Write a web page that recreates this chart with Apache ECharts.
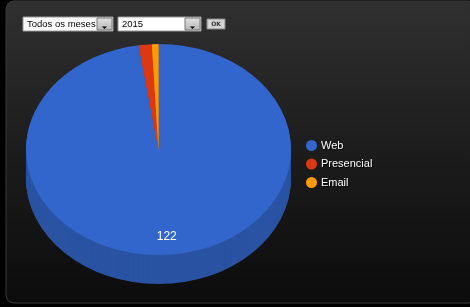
<!DOCTYPE html>
<html>
<head>
<meta charset="utf-8">
<title>Atendimentos</title>
<script src="https://cdn.jsdelivr.net/npm/echarts@6/dist/echarts.min.js"></script>
<style>
  html, body { margin: 0; padding: 0; background: #000; }
  #main { width: 470px; height: 307px; }
</style>
</head>
<body>
<div id="main"></div>
<script>
var categories = ['Web', 'Presencial', 'Email'];
var values = [122, 2, 1];
var colors = ['#3366cc', '#dc3912', '#ff9900'];
var sideColors = ['#2a53a3', '#b02e0e', '#cc7a00'];
var monthLabel = 'Todos os meses';
var yearLabel = '2015';

// ellipse of the 3d pie
var cx = 158.5, cy = 149.5, rx = 132.5, ry = 105.5, depth = 29;
var total = values.reduce(function (a, b) { return a + b; }, 0);

function sliceAngles(i) {
  var before = 0;
  for (var j = 0; j < i; j++) before += values[j];
  var a0 = -Math.PI / 2 + before / total * Math.PI * 2;
  return [a0, a0 + values[i] / total * Math.PI * 2];
}

function sector(i, dy, color) {
  var a = sliceAngles(i);
  return {
    type: 'sector',
    x: cx, y: cy + dy,
    scaleY: ry / rx,
    shape: { cx: 0, cy: 0, r0: 0, r: rx, startAngle: a[0], endAngle: a[1], clockwise: true },
    style: { fill: color }
  };
}

var sideSeries = {
  type: 'custom',
  coordinateSystem: 'none',
  silent: true,
  z: 1,
  data: values,
  renderItem: function (params, api) {
    var kids = [];
    for (var k = depth; k >= 1; k--) kids.push(sector(params.dataIndex, k, sideColors[params.dataIndex]));
    return { type: 'group', children: kids };
  }
};

var topSeries = categories.map(function (name, i) {
  return {
    name: name,
    type: 'custom',
    coordinateSystem: 'none',
    z: 2,
    itemStyle: { color: colors[i] },
    data: [values[i]],
    renderItem: function (params, api) {
      var kids = [sector(i, 0, colors[i])];
      if (values[i] / total > 0.05) {
        var a = sliceAngles(i), m = (a[0] + a[1]) / 2;
        kids.push({
          type: 'text',
          x: cx + Math.cos(m) * rx * 0.83,
          y: cy + Math.sin(m) * ry * 0.83,
          style: {
            text: String(api.value(0)),
            fill: '#fff',
            fontSize: 12, fontFamily: '"Liberation Sans", Arial, sans-serif',
            align: 'center', verticalAlign: 'middle',
            textAlign: 'center', textVerticalAlign: 'middle'
          }
        });
      }
      return { type: 'group', children: kids };
    }
  };
});

function selectBox(x, w, label) {
  return {
    type: 'group',
    children: [
      { type: 'rect', z: 1, shape: { x: x, y: 17, width: w, height: 14 }, style: { fill: '#fff', stroke: '#9a9a9a', lineWidth: 1 } },
      { type: 'rect', z: 2, shape: { x: x + w - 16, y: 18, width: 15, height: 12 },
        style: { fill: new echarts.graphic.LinearGradient(0, 0, 0, 1, [{ offset: 0, color: '#e4e4e4' }, { offset: 1, color: '#b4b4b4' }]), stroke: '#777', lineWidth: 1 } },
      { type: 'polygon', z: 3, shape: { points: [[x + w - 11, 26.5], [x + w - 6, 26.5], [x + w - 8.5, 29]] }, style: { fill: '#000' } },
      { type: 'text', z: 4, x: x + 4, y: 24.5, style: { text: label, fill: '#000', font: '9.5px "Liberation Sans", Arial, sans-serif', verticalAlign: 'middle', textVerticalAlign: 'middle' } }
    ]
  };
}

var chart = echarts.init(document.getElementById('main'));
chart.setOption({
  backgroundColor: 'transparent',
  animation: false,
  legend: {
    orient: 'vertical',
    left: 301, top: 135,
    icon: 'circle',
    itemWidth: 11, itemHeight: 11, itemGap: 7.5,
    selectedMode: false,
    data: categories,
    textStyle: { color: '#fff', fontSize: 11, fontFamily: '"Liberation Sans", Arial, sans-serif', padding: [0, 0, 0, -1],
      textShadowColor: 'rgba(0,0,0,0.8)', textShadowBlur: 1, textShadowOffsetX: 1, textShadowOffsetY: 1 }
  },
  graphic: [
    { type: 'rect', z: -10, shape: { x: 6, y: 1, width: 470, height: 302, r: 8 },
      style: { fill: new echarts.graphic.LinearGradient(0, 0, 0, 1, [{ offset: 0, color: '#303030' }, { offset: 0.45, color: '#1e1e1e' }, { offset: 1, color: '#0c0c0c' }]), stroke: '#3a3a3a', lineWidth: 1 } },
    selectBox(23, 90, monthLabel),
    selectBox(118, 83, yearLabel),
    { type: 'rect', shape: { x: 207, y: 19, width: 18, height: 10 }, style: { fill: '#d4d4d4', stroke: '#888', lineWidth: 1 } },
    { type: 'text', x: 216, y: 24, style: { text: 'OK', fill: '#333', fontSize: 6, fontWeight: 'bold', fontFamily: '"DejaVu Sans", sans-serif', align: 'center', verticalAlign: 'middle', textAlign: 'center', textVerticalAlign: 'middle' } }
  ],
  series: [sideSeries].concat(topSeries)
});
</script>
</body>
</html>
